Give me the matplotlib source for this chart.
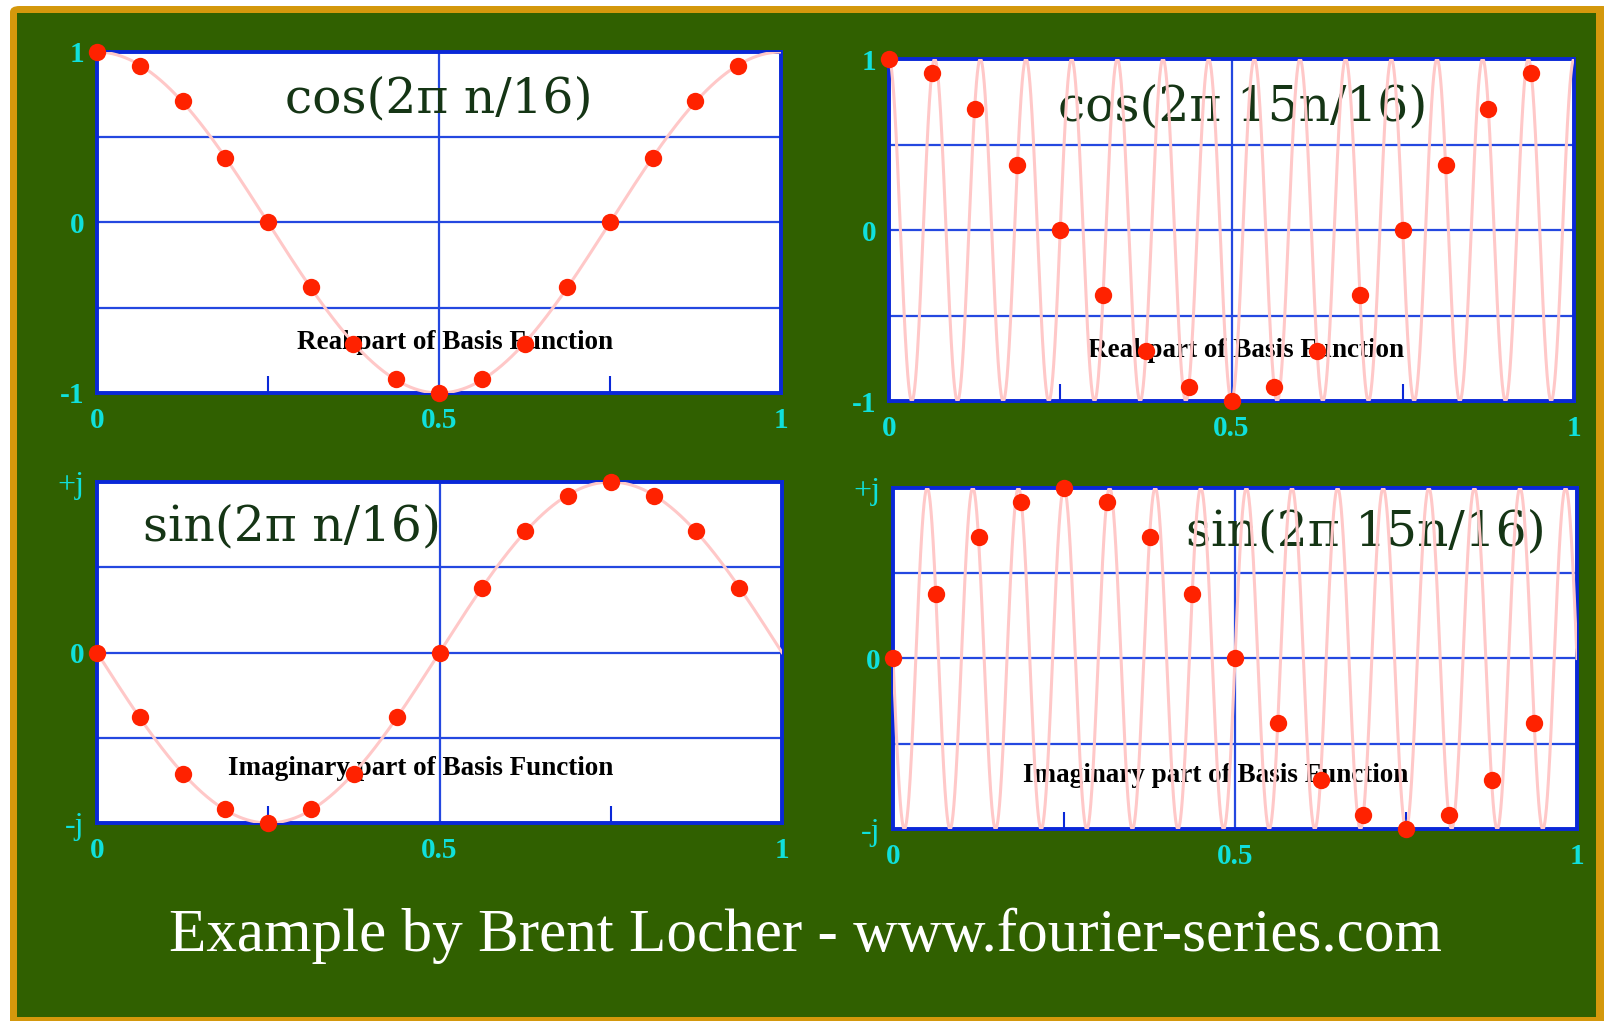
import numpy as np
import matplotlib
matplotlib.use("Agg")
import matplotlib.pyplot as plt
from matplotlib.patches import FancyBboxPatch, Rectangle

# ---------------- data ----------------
sample_x = [0.0, 0.0625, 0.125, 0.1875, 0.25, 0.3125, 0.375, 0.4375,
            0.5, 0.5625, 0.625, 0.6875, 0.75, 0.8125, 0.875, 0.9375]
cos_samples = [1.0, 0.92, 0.71, 0.38, 0.0, -0.38, -0.71, -0.92,
               -1.0, -0.92, -0.71, -0.38, 0.0, 0.38, 0.71, 0.92]
sin_samples_k1 = [0.0, -0.38, -0.71, -0.92, -1.0, -0.92, -0.71, -0.38,
                  0.0, 0.38, 0.71, 0.92, 1.0, 0.92, 0.71, 0.38]
sin_samples_k15 = [0.0, 0.38, 0.71, 0.92, 1.0, 0.92, 0.71, 0.38,
                   0.0, -0.38, -0.71, -0.92, -1.0, -0.92, -0.71, -0.38]
cycles = [1, 15]
titles = ["cos(2π n/16)", "cos(2π 15n/16)", "sin(2π n/16)", "sin(2π 15n/16)"]
captions = ["Real part of Basis Function", "Real part of Basis Function",
            "Imaginary part of Basis Function", "Imaginary part of Basis Function"]
xtick_vals = [0, 0.5, 1]
xtick_labels = ["0", "0.5", "1"]
ytick_vals = [-1, 0, 1]
real_ylabels = ["-1", "0", "1"]
imag_ylabels = ["-j", "0", "+j"]
footer = "Example by Brent Locher - www.fourier-series.com"

# ---------------- style ----------------
W, H = 1604, 1021
GREEN = "#306000"
ORANGE = "#D4980C"
BLUE = "#0A28D8"
GRID = "#2448E0"
PINK = "#FFC8C8"
RED = "#FF2200"
CYAN = "#10E0DC"
TITLE_C = "#153515"

fig = plt.figure(figsize=(W / 100, H / 100), dpi=100, facecolor="white")

def px_rect(x0, y0, x1, y1):
    return (x0 / W, 1 - y1 / H, (x1 - x0) / W, (y1 - y0) / H)

# background frame
ox, oy, ow, oh = px_rect(10, 6, 1612, 1030)
fig.add_artist(FancyBboxPatch((ox, oy), ow, oh, boxstyle="round,pad=0,rounding_size=0.006",
                              transform=fig.transFigure, facecolor=ORANGE, edgecolor="none", zorder=-2))
gx, gy, gw, gh = px_rect(17, 13, 1596, 1017)
fig.add_artist(Rectangle((gx, gy), gw, gh, transform=fig.transFigure,
                         facecolor=GREEN, edgecolor="none", zorder=-1))

panels = [
    dict(rect=(97, 52, 781, 393), k=cycles[0], kind="cos", pts=cos_samples,
         tpos=(0.50, 0.862), cpos=(0.523, 0.147), ylab=real_ylabels),
    dict(rect=(889, 59, 1574, 401), k=cycles[1], kind="cos", pts=cos_samples,
         tpos=(0.517, 0.860), cpos=(0.521, 0.149), ylab=real_ylabels),
    dict(rect=(97, 482, 782, 823), k=cycles[0], kind="sin", pts=sin_samples_k1,
         tpos=(0.285, 0.868), cpos=(0.472, 0.161), ylab=imag_ylabels),
    dict(rect=(893, 488, 1577, 829), k=cycles[1], kind="sin", pts=sin_samples_k15,
         tpos=(0.692, 0.870), cpos=(0.471, 0.158), ylab=imag_ylabels),
]

xs = np.linspace(0, 1, 3000)
for i, p in enumerate(panels):
    ax = fig.add_axes(px_rect(*p["rect"]), zorder=1)
    ax.set_facecolor("white")
    ax.set_xlim(0, 1)
    ax.set_ylim(-1, 1)
    ax.set_xticks(xtick_vals)
    ax.set_xticklabels(xtick_labels)
    ax.set_xticks([0.25, 0.75], minor=True)
    ax.set_yticks(ytick_vals)
    ax.set_yticks([-0.5, 0.5], minor=True)
    ax.set_axisbelow(True)
    ax.grid(axis="x", which="major", color=GRID, lw=1.6)
    ax.grid(axis="y", which="both", color=GRID, lw=1.6)
    ax.tick_params(axis="both", which="major", length=0)
    ax.tick_params(axis="y", which="minor", length=0)
    ax.tick_params(axis="x", which="minor", direction="in", length=12, width=1.5, color=BLUE)
    ax.tick_params(axis="x", which="major", pad=10, labelcolor=CYAN, labelsize=21)
    ax.tick_params(axis="y", which="major", pad=9, labelcolor=CYAN, labelsize=21)
    ax.set_yticklabels(p["ylab"])
    for t in ax.get_yticklabels():
        t.set_fontfamily("Liberation Serif")
        if p["kind"] == "cos" or t.get_text() == "0":
            t.set_fontweight("bold")
        else:
            t.set_fontweight("normal")
            t.set_fontsize(23)
    for t in ax.get_xticklabels():
        t.set_fontfamily("Liberation Serif"); t.set_fontweight("bold")
    for s in ax.spines.values():
        s.set_color(BLUE); s.set_linewidth(2.8)

    if p["kind"] == "cos":
        curve = np.cos(2 * np.pi * p["k"] * xs)
    else:
        curve = -np.sin(2 * np.pi * p["k"] * xs)
    ax.plot(xs, curve, color=PINK, lw=2.2, zorder=3)
    ax.plot(sample_x, p["pts"], "o", color=RED, ms=12.5, mec="none", zorder=5, clip_on=False)

    ax.text(p["tpos"][0], p["tpos"][1], titles[i], transform=ax.transAxes,
            ha="center", va="center", fontsize=35, color=TITLE_C,
            fontfamily="DejaVu Serif", zorder=2.5)
    ax.text(p["cpos"][0], p["cpos"][1], captions[i], transform=ax.transAxes,
            ha="center", va="center", fontsize=19.5, color="black", fontweight="bold",
            fontfamily="Liberation Serif", zorder=2.6)

fig.text(806 / W, 1 - 936 / H, footer, ha="center", va="center", fontsize=44,
         color="white", fontfamily="Liberation Serif")

fig.savefig("out.png", dpi=100, facecolor="white")
